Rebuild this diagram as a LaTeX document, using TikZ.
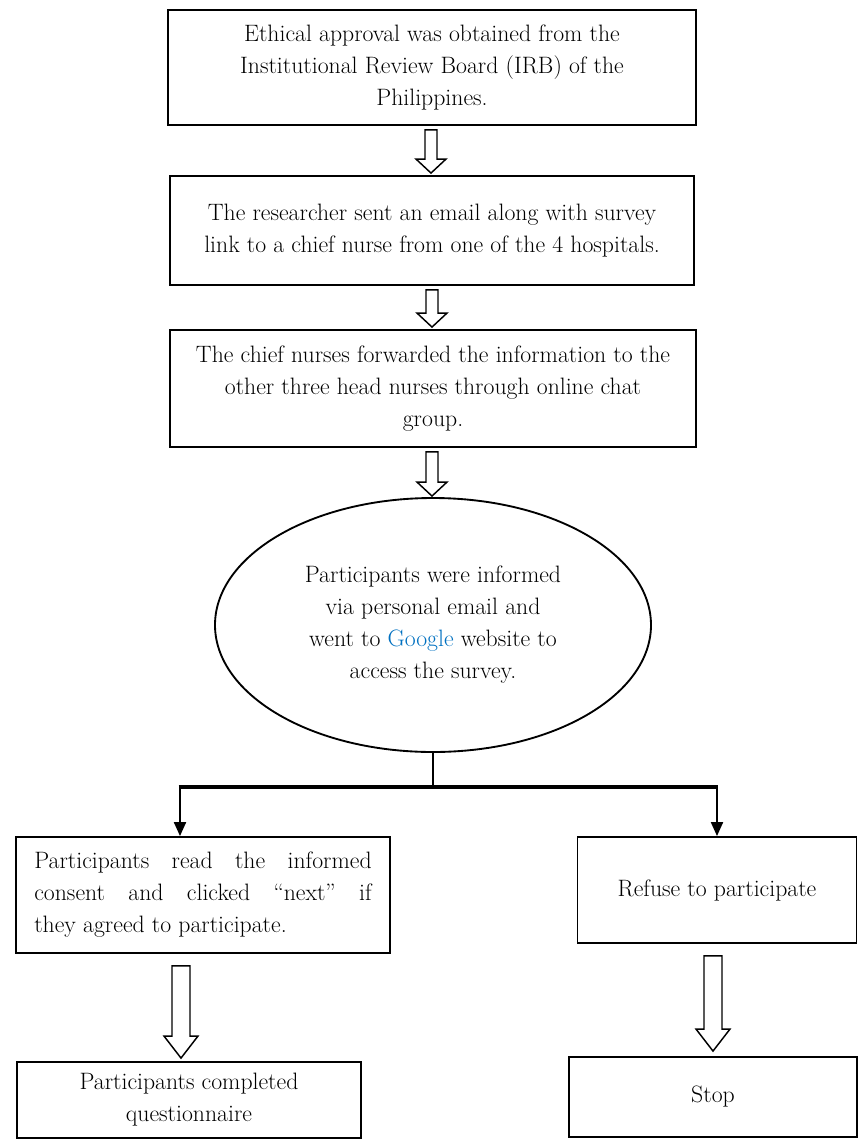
\documentclass[tikz,border=0pt]{standalone}
\usepackage{amsmath}
\usepackage{tikz}
\usetikzlibrary{arrows.meta,calc,shapes.geometric}

\definecolor{googleblue}{RGB}{0,112,192}

\tikzset{
  flowbox/.style={draw, line width=1.4pt, rectangle, align=center, inner sep=0pt,
    font=\fontsize{17.8}{24}\selectfont},
  flowoval/.style={draw, line width=1.4pt, ellipse, align=center, inner sep=0pt,
    font=\fontsize{17.8}{24}\selectfont},
  hollow/.style={line width=1.1pt, line join=miter, fill=white},
  stem/.style={line width=0.9pt},
  branch/.style={line width=2.6pt},
  drop/.style={line width=1.5pt, -{Triangle[length=10.5pt,width=9pt]}}
}

% hollow block arrow: #1 shaft half width, #2 head half width, #3 head height, #4 top, #5 tip
\newcommand{\hollowdown}[5]{%
  \draw[hollow] let \p1=(#4), \p2=(#5) in
    (\x2-#1,\y1) -- (\x2+#1,\y1) -- (\x2+#1,\y2-#3) -- (\x2+#2,\y2-#3)
    -- (\x2,\y2) -- (\x2-#2,\y2-#3) -- (\x2-#1,\y2-#3) -- cycle;}

\begin{document}
\begin{tikzpicture}[x=0.75pt,y=0.75pt,yscale=-1,xscale=1]
\useasboundingbox (0,0) rectangle (867,1140);

%Shape: Rectangle [ethics]
\node[flowbox, minimum width=396pt, minimum height=86.25pt] (ethics) at (432,67.5)
  {Ethical approval was obtained from the\\Institutional Review Board (IRB) of the\\Philippines.};
%Shape: Rectangle [email]
\node[flowbox, minimum width=393pt, minimum height=81.75pt] (email) at (432,230.5)
  {The researcher sent an email along with survey\\link to a chief nurse from one of the 4 hospitals.};
%Shape: Rectangle [forward]
\node[flowbox, minimum width=394.5pt, minimum height=87.75pt] (forward) at (433,388.5)
  {The chief nurses forwarded the information to the\\other three head nurses through online chat\\group.};
%Shape: Ellipse [inform]
\node[flowoval, minimum width=327pt, minimum height=190.5pt] (inform) at (433,625)
  {Participants were informed\\via personal email and\\went to \textcolor{googleblue}{Google} website to\\access the survey.};
%Shape: Rectangle [consent]
\node[flowbox, minimum width=280.5pt, minimum height=87pt, text width=253pt, align=justify] (consent) at (203,895)
  {Participants read the informed\linebreak consent and clicked ``next'' if\linebreak they agreed to participate.};
%Shape: Rectangle [refuse]
\node[flowbox, minimum width=209.25pt, minimum height=79.5pt] (refuse) at (717,890)
  {Refuse to participate};
%Shape: Rectangle [complete]
\node[flowbox, minimum width=258pt, minimum height=57pt] (complete) at (189,1100)
  {Participants completed\\questionnaire};
%Shape: Rectangle [stop]
\node[flowbox, minimum width=216pt, minimum height=60pt] (stop) at (713,1097)
  {Stop};

%Block Arrows
\hollowdown{4.5pt}{11.25pt}{10.5pt}{$(ethics.south)+(0,4)$}{$(email.north)+(-1,-2)$}
\hollowdown{4.5pt}{11.25pt}{10.5pt}{$(email.south)+(0,4)$}{$(forward.north)+(-1,-2)$}
\hollowdown{4.5pt}{11.25pt}{10.5pt}{$(forward.south)+(0,4)$}{$(inform.north)+(-1,-1)$}
\hollowdown{6.75pt}{12.75pt}{16.5pt}{$(consent.south)+(-22,12)$}{$(complete.north)+(-8,-3)$}
\hollowdown{6.75pt}{12.75pt}{16.5pt}{$(refuse.south)+(-4,12)$}{$(stop.north)+(0,-5)$}

%Straight Lines
\coordinate (split) at (inform.south |- 0,787);
\coordinate (lsplit) at (180,787);
\coordinate (rsplit) at (refuse.north |- split);
\draw[stem] (inform.south) -- (split);
\draw[branch] ([xshift=-1pt]lsplit) -- ([xshift=1pt]rsplit);
\draw[drop] (lsplit) -- (lsplit |- consent.north);
\draw[drop] (rsplit) -- (refuse.north);

\end{tikzpicture}
\end{document}
